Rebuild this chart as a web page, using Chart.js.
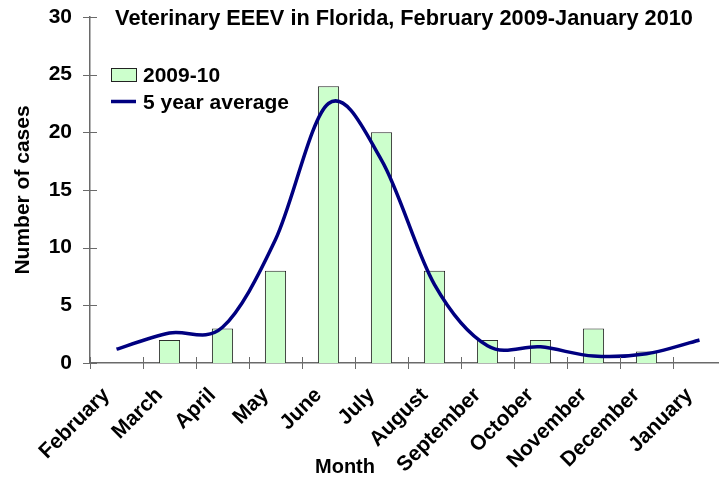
<!DOCTYPE html>
<html><head><meta charset="utf-8">
<script src="https://cdn.jsdelivr.net/npm/chart.js@4.4.1/dist/chart.umd.min.js"></script>
<style>
html,body{margin:0;padding:0;overflow:hidden;background:#fff;}
canvas{display:block;}
</style></head><body>
<canvas id="c" width="726" height="477" style="width:726px;height:477px"></canvas>
<script>
const months = ['February','March','April','May','June','July','August','September','October','November','December','January'];
const cases2009 = [null,2,3,8,24,20,8,2,2,3,1,null];
const fiveYearAvg = [1.2,2.6,3.1,10.7,22.5,17.6,6.8,1.5,1.4,0.6,0.8,2.0];
const yMin = 0, yMax = 30, yStep = 5;
const chartTitle = 'Veterinary EEEV in Florida, February 2009-January 2010';
const xTitle = 'Month';
const yTitle = 'Number of cases';
const seriesNames = ['2009-10','5 year average'];

const FONT = "'Liberation Sans', Arial, sans-serif";
const BAR_FILL = '#ccffcc', BAR_EDGE = '#222', LINE_COL = '#000080', AXIS_COL = '#6a6a6a';

// Smooth the line Chart.js draws with uniform (Catmull-Rom style) control points, like the original spreadsheet smoothing
const smoothLine = {
  id:'smoothLine',
  beforeDatasetDraw(chart, args){
    const line = args.meta.dataset;
    if (!line || args.meta.type !== 'line') return;
    line.updateControlPoints(chart.chartArea, 'x');
    const pts = line.points;
    const k = 1/6;
    for (let i = 0; i < pts.length; i++) {
      const p = pts[i], prev = pts[i-1] || p, next = pts[i+1] || p;
      const dx = (next.x - prev.x) * k, dy = (next.y - prev.y) * k;
      p.cp1x = p.x - dx; p.cp1y = p.y - dy;
      p.cp2x = p.x + dx; p.cp2y = p.y + dy;
    }
  }
};

const overlay = {
  id:'overlay',
  afterDraw(chart){
    const {ctx, chartArea:a, scales:{x,y}} = chart;
    ctx.save();
    ctx.strokeStyle = AXIS_COL; ctx.lineWidth = 1;
    ctx.beginPath();
    for (let i = 0; i <= months.length; i++) {
      const px = Math.round(x.getPixelForValue(i - 0.5)) + 0.5;
      ctx.moveTo(px, a.bottom - 6); ctx.lineTo(px, a.bottom + 6);
    }
    y.ticks.forEach(t => {
      const py = Math.round(y.getPixelForValue(t.value)) + 0.5;
      ctx.moveTo(a.left - 7, py); ctx.lineTo(a.left + 7, py);
    });
    ctx.stroke();
    ctx.fillStyle = '#000';
    ctx.font = "bold 21.75px " + FONT;
    ctx.textAlign = 'center'; ctx.textBaseline = 'alphabetic';
    ctx.fillText(chartTitle, 404, 25);
    ctx.font = "bold 21px " + FONT;
    const lx = a.left + 21;
    const ds0 = chart.data.datasets[0], ds1 = chart.data.datasets[1];
    ctx.fillStyle = ds0.backgroundColor; ctx.strokeStyle = ds0.borderColor; ctx.lineWidth = 1;
    ctx.fillRect(lx, 68, 25, 13); ctx.strokeRect(lx + 0.5, 68.5, 25, 13);
    ctx.strokeStyle = ds1.borderColor; ctx.lineWidth = ds1.borderWidth;
    ctx.beginPath(); ctx.moveTo(lx, 101.5); ctx.lineTo(lx + 25, 101.5); ctx.stroke();
    ctx.fillStyle = '#000'; ctx.textAlign = 'left';
    ctx.fillText(ds0.label, lx + 32, 82);
    ctx.fillText(ds1.label, lx + 32, 109);
    ctx.textAlign = 'center';
    ctx.font = "bold 20px " + FONT;
    ctx.fillText(xTitle, 345, 473);
    ctx.restore();
  }
};

new Chart(document.getElementById('c'), {
  data: {
    labels: months,
    datasets: [
      { type:'bar', label: seriesNames[0], data: cases2009, backgroundColor: BAR_FILL, borderColor: BAR_EDGE,
        borderWidth: 1, barPercentage: 0.4, categoryPercentage: 1, order: 2 },
      { type:'line', label: seriesNames[1], data: fiveYearAvg, borderColor: LINE_COL, backgroundColor: LINE_COL,
        borderWidth: 3.5, pointRadius: 0, tension: 0.4, capBezierPoints: false, fill: false, order: 1 }
    ]
  },
  options: {
    responsive: false, maintainAspectRatio: false, animation: false, devicePixelRatio: 1,
    layout: { padding: { top: 17, right: 0, bottom: 0, left: 0 } },
    plugins: { legend: { display: false }, tooltip: { enabled: false }, title: { display: false } },
    scales: {
      x: {
        offset: true,
        grid: { display: false, drawTicks: false },
        border: { display: true, color: AXIS_COL, width: 1.5 },
        ticks: { color: '#000', font: { family: FONT, size: 21, weight: 'bold' }, maxRotation: 45, minRotation: 45,
                 autoSkip: false, padding: 20, labelOffset: -10 },
        afterFit: s => { s.height = 114; s.paddingRight = 0; s.paddingLeft = 0; }
      },
      y: {
        min: yMin, max: yMax,
        grid: { display: false, drawTicks: false },
        border: { display: true, color: AXIS_COL, width: 1.5 },
        ticks: { stepSize: yStep, color: '#000', font: { family: FONT, size: 21, weight: 'bold' }, padding: 18 },
        title: { display: true, text: yTitle, color: '#000', font: { family: FONT, size: 21, weight: 'bold' }, padding: { top: 11, bottom: 0 } },
        afterFit: s => { s.width = 90; s.paddingTop = 0; s.paddingBottom = 0; }
      }
    }
  },
  plugins: [smoothLine, overlay]
});
</script>
</body></html>
